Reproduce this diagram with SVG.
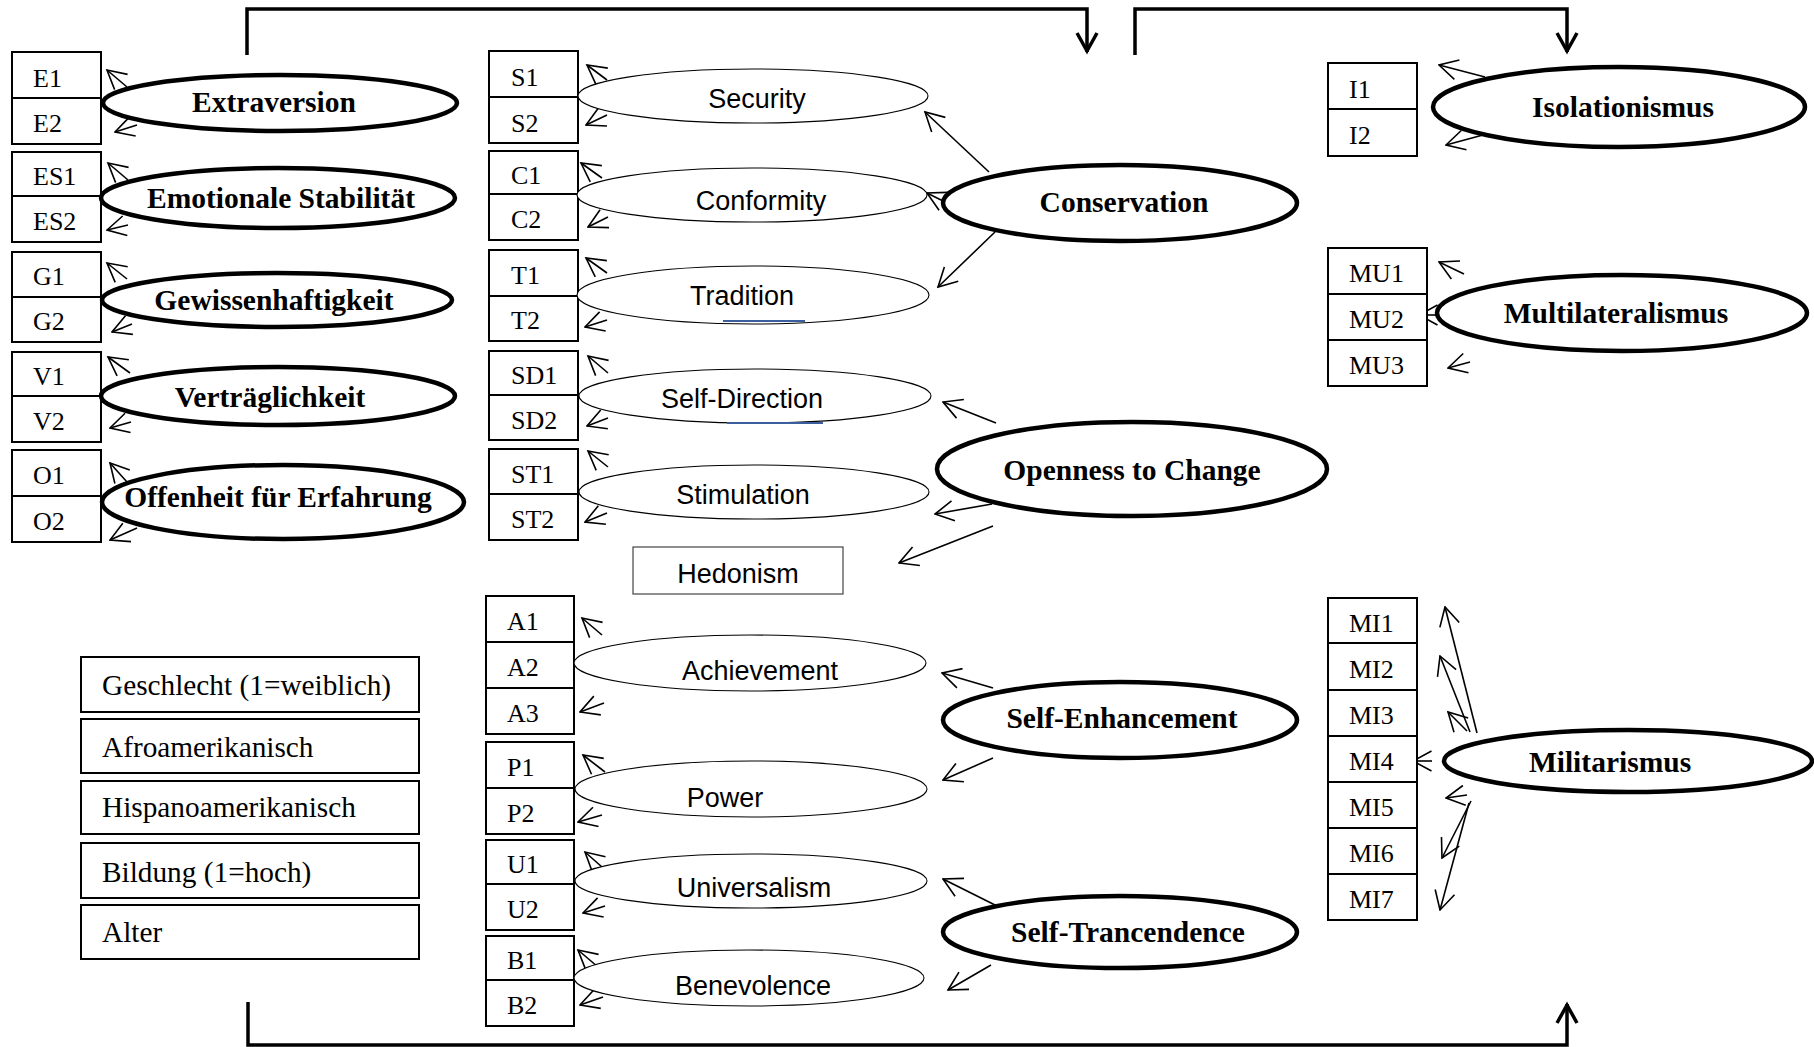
<svg xmlns="http://www.w3.org/2000/svg" width="1814" height="1047" viewBox="0 0 1814 1047">
<style>
  .box{fill:#fff;stroke:#000;stroke-width:2}
  .div{stroke:#000;stroke-width:2}
  .lbl{font-family:"Liberation Serif","Times New Roman",serif;font-size:26px;fill:#000}
  .dem{font-family:"Liberation Serif","Times New Roman",serif;font-size:29.3px;fill:#000}
  .big{fill:#fff;stroke:#000;stroke-width:4.5}
  .bigt{font-family:"Liberation Serif","Times New Roman",serif;font-size:29.5px;font-weight:bold;fill:#000;text-anchor:middle}
  .thin{fill:#fff;stroke:#000;stroke-width:1.1}
  .thint{font-family:"Liberation Sans",Arial,sans-serif;font-size:27px;fill:#000;text-anchor:middle}
  .arr{fill:none;stroke:#000;stroke-width:1.6;marker-end:url(#ah)}
  .frame{fill:none;stroke:#000;stroke-width:3.5;marker-end:url(#ahb)}
</style>
<defs>
  <marker id="ah" markerUnits="userSpaceOnUse" viewBox="0 -11 21 22" refX="19.5" refY="0" markerWidth="21" markerHeight="22" orient="auto">
    <path d="M1,-10 L19.5,0 L1,10" fill="none" stroke="#000" stroke-width="1.6"/>
  </marker>
  <marker id="ahb" markerUnits="userSpaceOnUse" viewBox="0 -12 24 24" refX="21" refY="0" markerWidth="24" markerHeight="24" orient="auto">
    <path d="M2,-10 L20,0 L2,10" fill="none" stroke="#000" stroke-width="3.5"/>
  </marker>
</defs>
<rect width="1814" height="1047" fill="#fff"/>

<g id="connectors">
  <path class="frame" d="M247,55 V9 H1087 V52"/>
  <path class="frame" d="M1135,55 V9 H1567 V52"/>
  <path class="frame" d="M248,1002 V1045 H1567 V1004"/>
  <path class="arr" d="M127,87 L107,70"/>
  <path class="arr" d="M137,125 L115,132"/>
  <path class="arr" d="M128,180 L108,163"/>
  <path class="arr" d="M128,225 L107,230"/>
  <path class="arr" d="M127,279 L107,263"/>
  <path class="arr" d="M132,324 L112,332"/>
  <path class="arr" d="M130,373 L108,357"/>
  <path class="arr" d="M131,422 L110,428"/>
  <path class="arr" d="M127,482 L110,463"/>
  <path class="arr" d="M137,528 L110,540"/>
  <path class="arr" d="M607,80 L587,65"/>
  <path class="arr" d="M607,115 L586,125"/>
  <path class="arr" d="M602,178 L581,163"/>
  <path class="arr" d="M608,217 L588,227"/>
  <path class="arr" d="M607,273 L586,258"/>
  <path class="arr" d="M607,320 L585,327"/>
  <path class="arr" d="M608,373 L588,356"/>
  <path class="arr" d="M608,418 L587,426"/>
  <path class="arr" d="M608,467 L588,451"/>
  <path class="arr" d="M607,513 L585,522"/>
  <path class="arr" d="M602,635 L582,618"/>
  <path class="arr" d="M575,662 L555,662"/>
  <path class="arr" d="M604,703 L580,712"/>
  <path class="arr" d="M605,772 L583,755"/>
  <path class="arr" d="M602,815 L578,822"/>
  <path class="arr" d="M602,867 L585,852"/>
  <path class="arr" d="M605,906 L583,913"/>
  <path class="arr" d="M598,967 L578,950"/>
  <path class="arr" d="M603,997 L580,1005"/>
  <path class="arr" d="M989,172 L925,112"/>
  <path class="arr" d="M945,202 L927,193"/>
  <path class="arr" d="M995,232 L938,287"/>
  <path class="arr" d="M996,423 L943,402"/>
  <path class="arr" d="M992,504 L935,514"/>
  <path class="arr" d="M993,526 L899,563"/>
  <path class="arr" d="M993,688 L942,673"/>
  <path class="arr" d="M993,758 L943,780"/>
  <path class="arr" d="M995,905 L943,879"/>
  <path class="arr" d="M991,965 L948,990"/>
  <path class="arr" d="M1485,77 L1439,65"/>
  <path class="arr" d="M1483,135 L1446,145"/>
  <path class="arr" d="M1464,274 L1439,262"/>
  <path class="arr" d="M1440,315 L1419,315"/>
  <path class="arr" d="M1470,362 L1448,368"/>
  <path class="arr" d="M1477,733 L1445,607"/>
  <path class="arr" d="M1470,732 L1440,656"/>
  <path class="arr" d="M1467,731 L1448,712"/>
  <path class="arr" d="M1432,761 L1413,761"/>
  <path class="arr" d="M1467,795 L1446,798"/>
  <path class="arr" d="M1471,801 L1442,858"/>
  <path class="arr" d="M1469,803 L1440,910"/>
</g>

<g id="box-E"><rect class="box" x="12" y="52" width="89" height="92"/><line class="div" x1="12" y1="98" x2="101" y2="98"/><text class="lbl" x="33" y="87">E1</text><text class="lbl" x="33" y="132">E2</text></g>
<g id="box-ES"><rect class="box" x="12" y="152" width="89" height="90"/><line class="div" x1="12" y1="196" x2="101" y2="196"/><text class="lbl" x="33" y="185">ES1</text><text class="lbl" x="33" y="230">ES2</text></g>
<g id="box-G"><rect class="box" x="12" y="252" width="89" height="90"/><line class="div" x1="12" y1="297" x2="101" y2="297"/><text class="lbl" x="33" y="285">G1</text><text class="lbl" x="33" y="330">G2</text></g>
<g id="box-V"><rect class="box" x="12" y="352" width="89" height="90"/><line class="div" x1="12" y1="396" x2="101" y2="396"/><text class="lbl" x="33" y="385">V1</text><text class="lbl" x="33" y="430">V2</text></g>
<g id="box-O"><rect class="box" x="12" y="450" width="89" height="92"/><line class="div" x1="12" y1="496" x2="101" y2="496"/><text class="lbl" x="33" y="484">O1</text><text class="lbl" x="33" y="530">O2</text></g>

<g id="lat-extraversion"><ellipse class="big" cx="280" cy="103" rx="177" ry="28"/><text class="bigt" x="274" y="112">Extraversion</text></g>
<g id="lat-emotionale"><ellipse class="big" cx="278" cy="198" rx="177" ry="30"/><text class="bigt" x="281" y="208">Emotionale Stabilität</text></g>
<g id="lat-gewissen"><ellipse class="big" cx="277" cy="300" rx="175" ry="27"/><text class="bigt" x="274" y="310">Gewissenhaftigkeit</text></g>
<g id="lat-vertraeglich"><ellipse class="big" cx="278" cy="396" rx="177" ry="29"/><text class="bigt" x="270" y="407">Verträglichkeit</text></g>
<g id="lat-offenheit"><ellipse class="big" cx="283" cy="502" rx="181" ry="37"/><text class="bigt" x="278" y="507">Offenheit für Erfahrung</text></g>

<g id="box-S"><rect class="box" x="489" y="51" width="89" height="92"/><line class="div" x1="489" y1="97" x2="578" y2="97"/><text class="lbl" x="511" y="86">S1</text><text class="lbl" x="511" y="132">S2</text></g>
<g id="box-C"><rect class="box" x="489" y="151" width="89" height="89"/><line class="div" x1="489" y1="194" x2="578" y2="194"/><text class="lbl" x="511" y="184">C1</text><text class="lbl" x="511" y="228">C2</text></g>
<g id="box-T"><rect class="box" x="489" y="250" width="89" height="91"/><line class="div" x1="489" y1="296" x2="578" y2="296"/><text class="lbl" x="511" y="284">T1</text><text class="lbl" x="511" y="329">T2</text></g>
<g id="box-SD"><rect class="box" x="489" y="351" width="89" height="89"/><line class="div" x1="489" y1="395" x2="578" y2="395"/><text class="lbl" x="511" y="384">SD1</text><text class="lbl" x="511" y="429">SD2</text></g>
<g id="box-ST"><rect class="box" x="489" y="449" width="89" height="91"/><line class="div" x1="489" y1="494" x2="578" y2="494"/><text class="lbl" x="511" y="483">ST1</text><text class="lbl" x="511" y="528">ST2</text></g>

<g id="box-A"><rect class="box" x="486" y="596" width="88" height="138"/><line class="div" x1="486" y1="642" x2="574" y2="642"/><line class="div" x1="486" y1="688" x2="574" y2="688"/><text class="lbl" x="507" y="630">A1</text><text class="lbl" x="507" y="676">A2</text><text class="lbl" x="507" y="722">A3</text></g>
<g id="box-P"><rect class="box" x="486" y="742" width="88" height="92"/><line class="div" x1="486" y1="788" x2="574" y2="788"/><text class="lbl" x="507" y="776">P1</text><text class="lbl" x="507" y="822">P2</text></g>
<g id="box-U"><rect class="box" x="486" y="840" width="88" height="90"/><line class="div" x1="486" y1="884" x2="574" y2="884"/><text class="lbl" x="507" y="873">U1</text><text class="lbl" x="507" y="918">U2</text></g>
<g id="box-B"><rect class="box" x="486" y="936" width="88" height="90"/><line class="div" x1="486" y1="980" x2="574" y2="980"/><text class="lbl" x="507" y="969">B1</text><text class="lbl" x="507" y="1014">B2</text></g>

<g id="val-security"><ellipse class="thin" cx="753" cy="96" rx="175" ry="27"/><text class="thint" x="757" y="108">Security</text></g>
<g id="val-conformity"><ellipse class="thin" cx="752" cy="195" rx="175" ry="27"/><text class="thint" x="761" y="210">Conformity</text></g>
<g id="val-tradition"><ellipse class="thin" cx="753" cy="295" rx="176" ry="29"/><line x1="723" y1="321" x2="805" y2="321" stroke="#3b5f9c" stroke-width="2"/><text class="thint" x="742" y="305">Tradition</text></g>
<g id="val-selfdirection"><ellipse class="thin" cx="755" cy="396" rx="176" ry="27"/><line x1="727" y1="423" x2="823" y2="423" stroke="#3b5f9c" stroke-width="2"/><text class="thint" x="742" y="408">Self-Direction</text></g>
<g id="val-stimulation"><ellipse class="thin" cx="754" cy="492" rx="175" ry="27"/><text class="thint" x="743" y="504">Stimulation</text></g>
<g id="val-hedonism"><rect x="633" y="547" width="210" height="47" fill="#fff" stroke="#444" stroke-width="1.2"/><text class="thint" x="738" y="583">Hedonism</text></g>
<g id="val-achievement"><ellipse class="thin" cx="750" cy="663" rx="176" ry="28"/><text class="thint" x="760" y="680">Achievement</text></g>
<g id="val-power"><ellipse class="thin" cx="751" cy="789" rx="176" ry="28"/><text class="thint" x="725" y="807">Power</text></g>
<g id="val-universalism"><ellipse class="thin" cx="751" cy="881" rx="176" ry="27"/><text class="thint" x="754" y="897">Universalism</text></g>
<g id="val-benevolence"><ellipse class="thin" cx="749" cy="978" rx="175" ry="28"/><text class="thint" x="753" y="995">Benevolence</text></g>

<g id="ho-conservation"><ellipse class="big" cx="1120" cy="203" rx="177" ry="38"/><text class="bigt" x="1124" y="212">Conservation</text></g>
<g id="ho-openness"><ellipse class="big" cx="1132" cy="469" rx="195" ry="47"/><text class="bigt" x="1132" y="480">Openness to Change</text></g>
<g id="ho-enhancement"><ellipse class="big" cx="1120" cy="720" rx="177" ry="38"/><text class="bigt" x="1122" y="728">Self-Enhancement</text></g>
<g id="ho-trancendence"><ellipse class="big" cx="1120" cy="932" rx="177" ry="36"/><text class="bigt" x="1128" y="942">Self-Trancendence</text></g>

<g id="box-I"><rect class="box" x="1328" y="63" width="89" height="93"/><line class="div" x1="1328" y1="109" x2="1417" y2="109"/><text class="lbl" x="1349" y="98">I1</text><text class="lbl" x="1349" y="144">I2</text></g>
<g id="box-MU"><rect class="box" x="1328" y="248" width="99" height="138"/><line class="div" x1="1328" y1="294" x2="1427" y2="294"/><line class="div" x1="1328" y1="340" x2="1427" y2="340"/><text class="lbl" x="1349" y="282">MU1</text><text class="lbl" x="1349" y="328">MU2</text><text class="lbl" x="1349" y="374">MU3</text></g>
<g id="box-MI"><rect class="box" x="1328" y="598" width="89" height="322"/>
  <line class="div" x1="1328" y1="643" x2="1417" y2="643"/><line class="div" x1="1328" y1="690" x2="1417" y2="690"/><line class="div" x1="1328" y1="736" x2="1417" y2="736"/><line class="div" x1="1328" y1="782" x2="1417" y2="782"/><line class="div" x1="1328" y1="828" x2="1417" y2="828"/><line class="div" x1="1328" y1="874" x2="1417" y2="874"/>
  <text class="lbl" x="1349" y="632">MI1</text><text class="lbl" x="1349" y="678">MI2</text><text class="lbl" x="1349" y="724">MI3</text><text class="lbl" x="1349" y="770">MI4</text><text class="lbl" x="1349" y="816">MI5</text><text class="lbl" x="1349" y="862">MI6</text><text class="lbl" x="1349" y="908">MI7</text></g>
<g id="lat-isolationismus"><ellipse class="big" cx="1619" cy="107" rx="186" ry="40"/><text class="bigt" x="1623" y="117">Isolationismus</text></g>
<g id="lat-multilateralismus"><ellipse class="big" cx="1622" cy="313" rx="185" ry="38"/><text class="bigt" x="1616" y="323">Multilateralismus</text></g>
<g id="lat-militarismus"><ellipse class="big" cx="1628" cy="761" rx="184" ry="31"/><text class="bigt" x="1610" y="772">Militarismus</text></g>

<g id="dem-geschlecht"><rect class="box" x="81" y="657" width="338" height="55"/><text class="dem" x="102" y="695">Geschlecht (1=weiblich)</text></g>
<g id="dem-afro"><rect class="box" x="81" y="719" width="338" height="54"/><text class="dem" x="102" y="757">Afroamerikanisch</text></g>
<g id="dem-hispano"><rect class="box" x="81" y="781" width="338" height="53"/><text class="dem" x="102" y="817">Hispanoamerikanisch</text></g>
<g id="dem-bildung"><rect class="box" x="81" y="843" width="338" height="55"/><text class="dem" x="102" y="882">Bildung (1=hoch)</text></g>
<g id="dem-alter"><rect class="box" x="81" y="905" width="338" height="54"/><text class="dem" x="102" y="942">Alter</text></g>
</svg>
